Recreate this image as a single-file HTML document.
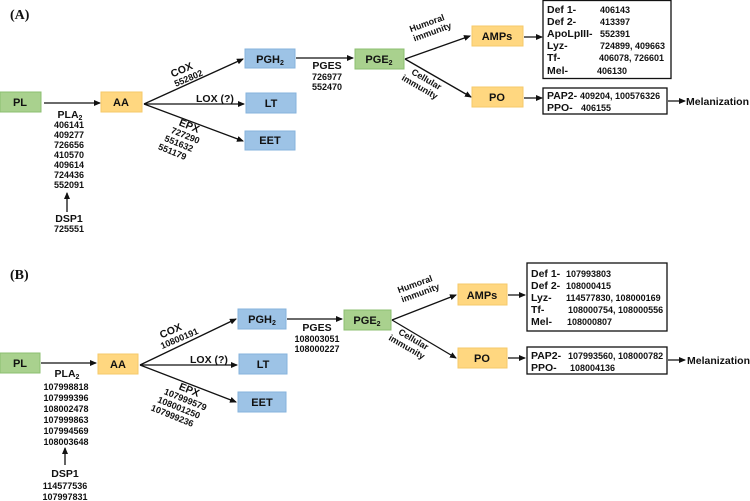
<!DOCTYPE html>
<html><head><meta charset="utf-8"><style>
html,body{margin:0;padding:0;background:#fff;}
svg{display:block;}
text{font-family:"Liberation Sans",Arial,sans-serif;font-weight:bold;fill:#111;}
.t{font-family:"Liberation Serif",serif;font-size:14px;}
.n{font-size:9px;}
.l{font-size:10.5px;}
.b{font-size:11px;}
</style></head><body>
<svg width="750" height="501" viewBox="0 0 750 501" xmlns="http://www.w3.org/2000/svg">
<defs>
<marker id="a" markerWidth="7" markerHeight="6" refX="6" refY="3" orient="auto" markerUnits="userSpaceOnUse">
<path d="M0,0 L7,3 L0,6 z" fill="#111"/></marker>
</defs>
<g stroke="#111" stroke-width="1.3" fill="none" marker-end="url(#a)">
<line x1="44" y1="103" x2="100" y2="103"/>
<line x1="67" y1="212" x2="67" y2="193"/>
<line x1="144" y1="104" x2="243" y2="59"/>
<line x1="144" y1="104" x2="244" y2="104"/>
<line x1="144" y1="104" x2="243" y2="141"/>
<line x1="296" y1="58" x2="353" y2="58"/>
<line x1="405" y1="59" x2="470" y2="36"/>
<line x1="405" y1="59" x2="471" y2="97"/>
<line x1="524" y1="37" x2="542" y2="37"/>
<line x1="524" y1="98" x2="542" y2="98"/>
<line x1="668" y1="101" x2="685" y2="101"/>
<line x1="41" y1="363" x2="96" y2="363"/>
<line x1="65" y1="465" x2="65" y2="448"/>
<line x1="140" y1="365" x2="236" y2="319"/>
<line x1="140" y1="365" x2="237" y2="365"/>
<line x1="140" y1="365" x2="236" y2="402"/>
<line x1="287" y1="319" x2="342" y2="319"/>
<line x1="392" y1="320" x2="456" y2="295"/>
<line x1="392" y1="320" x2="456" y2="358"/>
<line x1="508" y1="295" x2="525" y2="295"/>
<line x1="508" y1="358" x2="525" y2="358"/>
<line x1="668" y1="360" x2="685" y2="360"/>
</g>
<g stroke-width="1">
<rect x="0" y="92" width="41" height="20" fill="#a9d18e" stroke="#8cbf70"/>
<rect x="101" y="92" width="41" height="20" fill="#ffd780" stroke="#f5c96a"/>
<rect x="245" y="49" width="50" height="19" fill="#9dc3e6" stroke="#86b3dc"/>
<rect x="246" y="93" width="50" height="20" fill="#9dc3e6" stroke="#86b3dc"/>
<rect x="245" y="131" width="50" height="19" fill="#9dc3e6" stroke="#86b3dc"/>
<rect x="355" y="49" width="49" height="20" fill="#a9d18e" stroke="#8cbf70"/>
<rect x="472" y="26" width="51" height="20" fill="#ffd780" stroke="#f5c96a"/>
<rect x="472" y="87" width="51" height="20" fill="#ffd780" stroke="#f5c96a"/>
<rect x="543" y="0.5" width="128" height="78" fill="#fff" stroke="#111" stroke-width="1.3"/>
<rect x="543" y="88" width="124" height="26" fill="#fff" stroke="#111" stroke-width="1.3"/>
<rect x="0" y="353" width="40" height="20" fill="#a9d18e" stroke="#8cbf70"/>
<rect x="98" y="354" width="40" height="20" fill="#ffd780" stroke="#f5c96a"/>
<rect x="238" y="309" width="48" height="20" fill="#9dc3e6" stroke="#86b3dc"/>
<rect x="239" y="354" width="48" height="20" fill="#9dc3e6" stroke="#86b3dc"/>
<rect x="238" y="392" width="48" height="20" fill="#9dc3e6" stroke="#86b3dc"/>
<rect x="344" y="310" width="47" height="20" fill="#a9d18e" stroke="#8cbf70"/>
<rect x="458" y="284" width="49" height="21" fill="#ffd780" stroke="#f5c96a"/>
<rect x="458" y="348" width="49" height="20" fill="#ffd780" stroke="#f5c96a"/>
<rect x="527" y="263" width="140" height="68" fill="#fff" stroke="#111" stroke-width="1.3"/>
<rect x="527" y="347" width="140" height="27" fill="#fff" stroke="#111" stroke-width="1.3"/>
</g>

<text class="t" x="10" y="19">(A)</text>
<g class="b" text-anchor="middle">
<text x="20" y="106">PL</text>
<text x="121" y="106">AA</text>
<text x="270" y="63">PGH<tspan font-size="7" dy="2">2</tspan></text>
<text x="271" y="107">LT</text>
<text x="270" y="144">EET</text>
<text x="379" y="63">PGE<tspan font-size="7" dy="2">2</tspan></text>
<text x="497" y="40">AMPs</text>
<text x="497" y="101">PO</text>
</g>
<g class="n" text-anchor="middle">
<text class="l" x="70" y="118">PLA<tspan font-size="7" dy="2">2</tspan></text>
<text x="69" y="128">406141</text>
<text x="69" y="138">409277</text>
<text x="69" y="148">726656</text>
<text x="69" y="158">410570</text>
<text x="69" y="168">409614</text>
<text x="69" y="178">724436</text>
<text x="69" y="188">552091</text>
<text class="l" x="69" y="222">DSP1</text>
<text x="69" y="232">725551</text>
<text class="l" x="327" y="69">PGES</text>
<text x="327" y="80">726977</text>
<text x="327" y="90">552470</text>
</g>
<text class="l" x="196" y="102">LOX (?)</text>
<g transform="translate(183,73) rotate(-23)" text-anchor="middle"><text class="l" x="0" y="0">COX</text><text class="n" x="3" y="10">552802</text></g>
<g transform="translate(188,129) rotate(22)" text-anchor="middle"><text class="l" x="0" y="0">EPX</text><text class="n" x="0" y="10">727290</text><text class="n" x="-3" y="20">551632</text><text class="n" x="-6" y="30">551179</text></g>
<g transform="translate(428,26) rotate(-20)" text-anchor="middle" class="n"><text x="0" y="0">Humoral</text><text x="2" y="10">immunity</text></g>
<g transform="translate(425,82) rotate(30)" text-anchor="middle" class="n"><text x="0" y="0">Cellular</text><text x="-2" y="10">immunity</text></g>
<g class="n">
<text class="l" x="547" y="13">Def 1-</text><text x="600" y="13">406143</text>
<text class="l" x="547" y="25">Def 2-</text><text x="600" y="25">413397</text>
<text class="l" x="547" y="37">ApoLpIII-</text><text x="600" y="37">552391</text>
<text class="l" x="547" y="49">Lyz-</text><text x="600" y="49">724899, 409663</text>
<text class="l" x="547" y="61">Tf-</text><text x="599" y="61">406078, 726601</text>
<text class="l" x="547" y="74">Mel-</text><text x="597" y="74">406130</text>
<text class="l" x="547" y="99">PAP2-</text><text x="580" y="99">409204, 100576326</text>
<text class="l" x="547" y="111">PPO-</text><text x="581" y="111">406155</text>
</g>
<text class="l" x="686" y="105">Melanization</text>

<text class="t" x="10" y="279">(B)</text>
<g class="b" text-anchor="middle">
<text x="20" y="367">PL</text>
<text x="118" y="368">AA</text>
<text x="262" y="323">PGH<tspan font-size="7" dy="2">2</tspan></text>
<text x="263" y="368">LT</text>
<text x="262" y="406">EET</text>
<text x="367" y="324">PGE<tspan font-size="7" dy="2">2</tspan></text>
<text x="482" y="299">AMPs</text>
<text x="482" y="362">PO</text>
</g>
<g class="n" text-anchor="middle">
<text class="l" x="67" y="377">PLA<tspan font-size="7" dy="2">2</tspan></text>
<text x="66" y="390">107998818</text>
<text x="66" y="401">107999396</text>
<text x="66" y="412">108002478</text>
<text x="66" y="423">107999863</text>
<text x="66" y="434">107994569</text>
<text x="66" y="445">108003648</text>
<text class="l" x="65" y="477">DSP1</text>
<text x="65" y="489">114577536</text>
<text x="65" y="500">107997831</text>
<text class="l" x="317" y="331">PGES</text>
<text x="317" y="342">108003051</text>
<text x="317" y="352">108000227</text>
</g>
<text class="l" x="190" y="363">LOX (?)</text>
<g transform="translate(172,334) rotate(-23)" text-anchor="middle"><text class="l" x="0" y="0">COX</text><text class="n" x="5" y="10">10800191</text></g>
<g transform="translate(188,393) rotate(22)" text-anchor="middle"><text class="l" x="0" y="0">EPX</text><text class="n" x="0" y="10">107999579</text><text class="n" x="-3" y="20">108001250</text><text class="n" x="-6" y="30">107999236</text></g>
<g transform="translate(416,287) rotate(-20)" text-anchor="middle" class="n"><text x="0" y="0">Humoral</text><text x="2" y="10">immunity</text></g>
<g transform="translate(412,342) rotate(30)" text-anchor="middle" class="n"><text x="0" y="0">Cellular</text><text x="-2" y="10">immunity</text></g>
<g class="n">
<text class="l" x="531" y="277">Def 1-</text><text x="566" y="277">107993803</text>
<text class="l" x="531" y="289">Def 2-</text><text x="566" y="289">108000415</text>
<text class="l" x="531" y="301">Lyz-</text><text x="566" y="301">114577830, 108000169</text>
<text class="l" x="531" y="313">Tf-</text><text x="568" y="313">108000754, 108000556</text>
<text class="l" x="531" y="325">Mel-</text><text x="567" y="325">108000807</text>
<text class="l" x="531" y="359">PAP2-</text><text x="568" y="359">107993560, 108000782</text>
<text class="l" x="531" y="371">PPO-</text><text x="570" y="371">108004136</text>
</g>
<text class="l" x="687" y="364">Melanization</text>
</svg>
</body></html>
